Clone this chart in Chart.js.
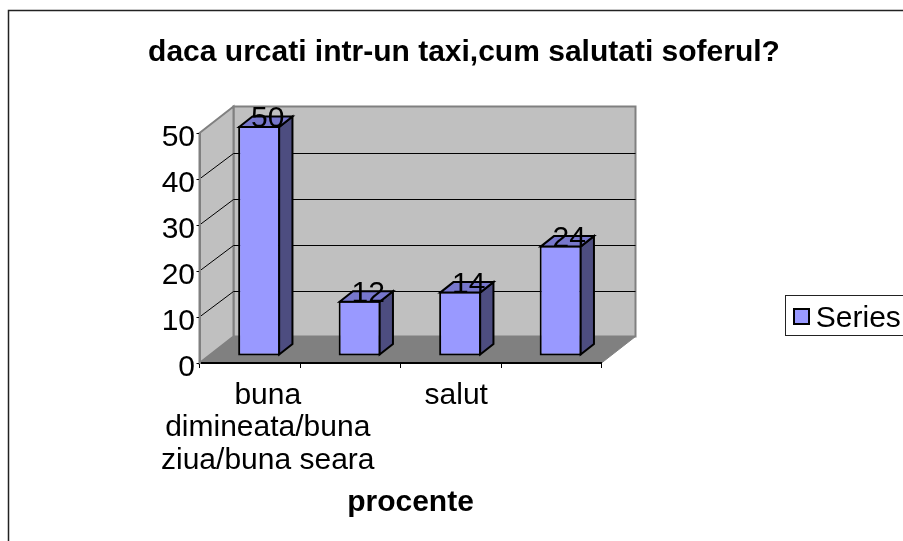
<!DOCTYPE html>
<html>
<head>
<meta charset="utf-8">
<style>
html, body { margin: 0; padding: 0; width: 903px; height: 541px; overflow: hidden; background: #fff; }
#wrap { position: absolute; left: 0; top: 0; width: 928px; height: 541px; }
</style>
</head>
<body>
<div id="wrap"><canvas id="chart" width="928" height="541"></canvas></div>
<script src="https://cdn.jsdelivr.net/npm/chart.js@4/dist/chart.umd.min.js"></script>
<script>
const categories = [['buna', 'dimineata/buna', 'ziua/buna seara'], '', 'salut', ''];
const seriesValues = [50, 12, 14, 24];
const seriesName = 'Series1';
const titleText = 'daca urcati intr-un taxi,cum salutati soferul?';
const axisTitleText = 'procente';
const yTicks = [0, 10, 20, 30, 40, 50];

const FONT = '"Liberation Sans", Arial, sans-serif';
const barFill = '#9999FF';

// depth of the fake 3d box and of the bars
const wallDx = 34, wallDy = -26.5;
const barShiftX = 9.4, barShiftY = -7;
const barDx = 13.3, barDy = -10.5;

function poly(ctx, pts, fill, stroke, lw) {
    ctx.beginPath();
    pts.forEach((p, i) => i ? ctx.lineTo(p[0], p[1]) : ctx.moveTo(p[0], p[1]));
    ctx.closePath();
    if (fill) { ctx.fillStyle = fill; ctx.fill(); }
    if (stroke) { ctx.strokeStyle = stroke; ctx.lineWidth = lw; ctx.lineJoin = 'miter'; ctx.stroke(); }
}

const box3d = {
    id: 'box3d',
    afterLayout(chart) {
        // title is centred on the whole chart, not on the plot
        chart.titleBlock.left = 0;
        chart.titleBlock.right = chart.width;

        // legend sits in the free space right of the plot
        const lg = chart.legend;
        const h = lg.height, w = lg.width;
        lg.left = 793.8 - lg.options.labels.padding;
        lg.right = lg.left + w;
        lg.top = 318.5 - h / 2;
        lg.bottom = lg.top + h;
    },
    beforeDraw(chart) {
        const { ctx, scales: { x, y }, chartArea: a } = chart;
        ctx.save();

        // outer frame, runs off the picture on the right and bottom
        ctx.strokeStyle = '#222';
        ctx.lineWidth = 1.5;
        ctx.strokeRect(8.5, 10.5, 1000, 1000);

        const y0 = y.getPixelForValue(0), yTop = y.getPixelForValue(50);
        const L = a.left, R = a.right;

        poly(ctx, [[L + wallDx, yTop + wallDy], [R + wallDx, yTop + wallDy], [R + wallDx, y0 + wallDy], [L + wallDx, y0 + wallDy]], '#C0C0C0', '#808080', 2);
        poly(ctx, [[L, yTop], [L + wallDx, yTop + wallDy], [L + wallDx, y0 + wallDy], [L, y0]], '#C0C0C0', '#808080', 2);
        poly(ctx, [[L, y0], [L + wallDx, y0 + wallDy], [R + wallDx, y0 + wallDy], [R, y0]], '#808080');
        ctx.strokeStyle = '#808080';
        ctx.lineWidth = 1;
        ctx.beginPath();
        ctx.moveTo(R, y0);
        ctx.lineTo(R + wallDx, y0 + wallDy);
        ctx.stroke();

        // gridlines wrap round the side wall and back wall
        ctx.strokeStyle = '#000';
        ctx.lineWidth = 1;
        yTicks.forEach(v => {
            if (v === 0 || v === 50) return;
            const py = y.getPixelForValue(v);
            ctx.beginPath();
            ctx.moveTo(L, py);
            ctx.lineTo(L + wallDx, Math.round(py + wallDy) + 0.5);
            ctx.lineTo(R + wallDx, Math.round(py + wallDy) + 0.5);
            ctx.stroke();
        });
        ctx.restore();

        // only the first and third labels show, and they sit off-centre
        const items = x.getLabelItems();
        items[0].options.translation[0] = x.getPixelForTick(0) + 18;
        items[2].options.translation[0] = x.getPixelForTick(2) + 5.5;
    },
    beforeDatasetDraw(chart) {
        chart.ctx.save();
        chart.ctx.translate(barShiftX, barShiftY);
    },
    afterDatasetDraw(chart, args) {
        const ctx = chart.ctx;
        chart.getDatasetMeta(args.index).data.forEach(bar => {
            const l = bar.x - bar.width / 2 + 1, r = bar.x + bar.width / 2 - 1;
            const t = bar.y + 1, b = bar.base - 1;
            poly(ctx, [[r, t], [r + barDx, t + barDy], [r + barDx, b + barDy], [r, b]], '#4D4D80', '#000', 2);
            poly(ctx, [[l, t], [l + barDx, t + barDy], [r + barDx, t + barDy], [r, t]], '#7777CC', '#000', 2);
        });
        ctx.restore();
    },
    afterDatasetsDraw(chart) {
        const { ctx } = chart;
        ctx.save();
        ctx.font = '30px ' + FONT;
        ctx.fillStyle = '#000';
        ctx.textAlign = 'center';
        ctx.textBaseline = 'middle';
        chart.getDatasetMeta(0).data.forEach((bar, i) => {
            ctx.fillText(String(seriesValues[i]), bar.x + barShiftX + 8.5, bar.y + barShiftY - 7);
        });

        // axis title is centred on the 3d box, not on the front axis
        ctx.font = 'bold 30px ' + FONT;
        ctx.fillText(axisTitleText, 410.5, 503);

        // legend frame and swatch
        ctx.strokeStyle = '#222';
        ctx.lineWidth = 1;
        ctx.strokeRect(785.5, 295.5, 200, 40);
        ctx.fillStyle = barFill;
        ctx.fillRect(794, 309, 15, 15);
        ctx.strokeStyle = '#000';
        ctx.lineWidth = 2;
        ctx.strokeRect(794, 309, 15, 15);
        ctx.restore();
    }
};

new Chart(document.getElementById('chart'), {
    type: 'bar',
    data: {
        labels: categories,
        datasets: [{
            label: seriesName,
            data: seriesValues,
            backgroundColor: barFill,
            borderColor: '#000',
            borderWidth: 2,
            borderSkipped: false,
            barPercentage: 0.418,
            categoryPercentage: 1,
            clip: false
        }]
    },
    options: {
        responsive: false,
        animation: false,
        layout: { padding: { left: 0, right: 326.5, top: 0, bottom: 0 } },
        plugins: {
            tooltip: { enabled: false },
            title: {
                display: true,
                text: titleText,
                color: '#000',
                font: { family: FONT, size: 30, weight: 'bold', lineHeight: 1.2 },
                padding: { top: 35, bottom: 62 }
            },
            legend: {
                position: 'chartArea',
                labels: {
                    color: '#000',
                    font: { family: FONT, size: 30 },
                    boxWidth: 7,
                    boxHeight: 15,
                    padding: 10,
                    generateLabels: () => [{ text: seriesName, fillStyle: 'transparent', strokeStyle: 'transparent', lineWidth: 0, datasetIndex: 0 }]
                }
            }
        },
        scales: {
            x: {
                afterFit(scale) { scale.height = 178; },
                grid: { drawOnChartArea: false, tickLength: 5, tickColor: '#000', tickWidth: 1 },
                border: { color: '#000', width: 2 },
                ticks: {
                    color: '#000',
                    autoSkip: false,
                    maxRotation: 0,
                    padding: 12,
                    font: { family: FONT, size: 30, lineHeight: 1.07 }
                }
            },
            y: {
                min: 0,
                max: 50,
                afterFit(scale) { scale.width = 199.5; },
                afterBuildTicks(scale) { scale.ticks = yTicks.map(v => ({ value: v })); },
                grid: { drawOnChartArea: false, tickLength: 3, tickColor: '#000', tickWidth: 1 },
                border: { color: '#808080', width: 2 },
                ticks: {
                    color: '#000',
                    padding: 1.5,
                    labelOffset: 5,
                    font: { family: FONT, size: 30 }
                }
            }
        }
    },
    plugins: [box3d]
});
</script>
</body>
</html>
